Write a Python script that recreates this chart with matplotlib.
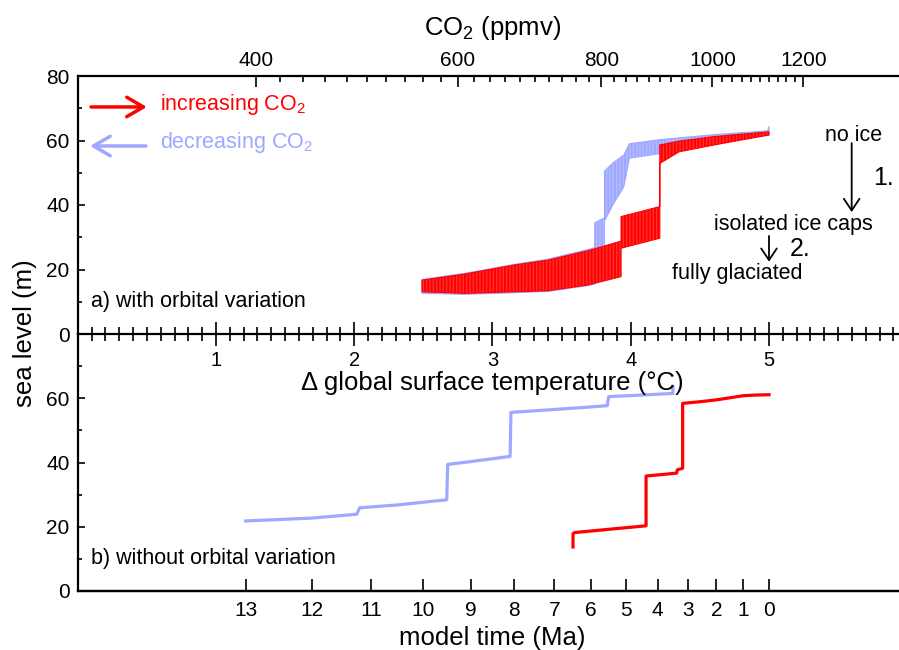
import numpy as np
import matplotlib.pyplot as plt
from matplotlib.ticker import FixedLocator, MultipleLocator, NullLocator

plt.rcParams['font.family'] = 'Liberation Sans'
plt.rcParams['mathtext.fontset'] = 'custom'
plt.rcParams['mathtext.rm'] = 'Liberation Sans'
plt.rcParams['mathtext.default'] = 'regular'
plt.rcParams['hatch.linewidth'] = 1.4

RED = '#ff0000'
BLUE = '#9fa8ff'

# a) envelope of the orbital cycles (min / max sea level), x = warming in degC
red_dT = [2.49, 2.80, 3.16, 3.40, 3.69, 3.93, 3.93, 4.21, 4.21, 4.35, 4.60, 5.00]
red_lo = [13.1, 12.6, 13.1, 13.4, 15.2, 17.8, 26.6, 29.7, 52.9, 56.5, 58.6, 61.7]
red_hi = [16.7, 18.6, 21.4, 22.9, 25.8, 28.8, 36.4, 39.5, 58.6, 59.8, 61.2, 62.7]

blue_dT = [2.49, 2.80, 3.16, 3.40, 3.69, 3.74, 3.74, 3.81, 3.81, 3.87, 3.95,
           3.99, 4.22, 4.60, 4.99, 5.00]
blue_lo = [12.6, 12.3, 12.8, 13.2, 15.0, 15.5, 26.0, 27.0, 35.0, 40.0, 45.7,
           54.5, 56.0, 59.0, 61.7, 61.7]
blue_hi = [16.9, 18.8, 21.6, 23.2, 26.2, 26.8, 34.5, 36.0, 50.5, 53.0, 55.5,
           59.0, 60.3, 61.8, 63.0, 64.3]

# b) runs without orbital forcing, x = model time (Ma)
red_time = [6.5, 6.5, 6.45, 5.5, 4.37, 4.37, 3.8, 3.38, 3.36, 3.18, 3.18,
            2.5, 2.0, 1.0, 0.5, 0.0]
red_sl = [13.7, 17.9, 18.2, 19.2, 20.3, 35.8, 36.3, 36.7, 37.7, 38.2, 58.4,
          59.0, 59.5, 60.8, 61.0, 61.1]

blue_time = [13.0, 12.0, 11.25, 11.2, 10.5, 9.52, 9.5, 9.0, 8.1, 8.08, 7.0,
             6.0, 5.54, 5.5, 4.5, 3.51, 3.5]
blue_sl = [21.8, 22.7, 23.9, 25.9, 26.8, 28.4, 39.4, 40.3, 41.9, 55.6, 56.5,
           57.3, 57.7, 60.5, 61.0, 61.5, 63.4]

co2_ticks = [400, 600, 800, 1000, 1200]
dT_ticks = [1, 2, 3, 4, 5]
time_ticks = [13, 12, 11, 10, 9, 8, 7, 6, 5, 4, 3, 2, 1, 0]


# 2.5 degC per CO2 doubling from 280 ppmv; CO2 ramps 56 ppmv per Ma
def dT_to_co2(dT):
    return 280.0 * 2.0 ** (np.asarray(dT, float) / 2.5)


def co2_to_dT(co2):
    return 2.5 * np.log2(np.clip(np.asarray(co2, float), 1e-6, None) / 280.0)


def time_to_dT(t):
    return co2_to_dT(1120.0 - 56.0 * np.asarray(t, float))


def dT_to_time(dT):
    return (1120.0 - dT_to_co2(dT)) / 56.0


fig = plt.figure(figsize=(8.99, 6.5), dpi=100)
W, H = 899.0, 650.0
ax_a = fig.add_axes([77.75 / W, 316 / H, 829.5 / W, 258 / H])
ax_b = fig.add_axes([77.75 / W, 59 / H, 829.5 / W, 257 / H])

# ---- panel a ----
ax_a.fill_between(blue_dT, blue_lo, blue_hi, facecolor='#b4bbff',
                  edgecolor=BLUE, hatch='|||||', linewidth=0.8, zorder=2)
ax_a.fill_between(red_dT, red_lo, red_hi, facecolor='#ff3030',
                  edgecolor=RED, hatch='|||||', linewidth=0.8, zorder=3)
ax_a.set_xlim(0, 6)
ax_a.set_ylim(0, 80)

ax_a.set_xticks(dT_ticks)
ax_a.xaxis.set_minor_locator(MultipleLocator(0.1))
ax_a.tick_params(axis='x', which='major', direction='inout', length=17,
                 width=1.2, pad=3.5, labelsize=14.5, top=False)
ax_a.tick_params(axis='x', which='minor', direction='inout', length=9.5,
                 width=1.2, top=False)

secax = ax_a.secondary_xaxis('top', functions=(dT_to_co2, co2_to_dT))
secax.set_xticks(co2_ticks, labels=[str(c) for c in co2_ticks])
secax.xaxis.set_minor_locator(FixedLocator([c for c in range(420, 1200, 20)
                                            if c % 200]))
secax.tick_params(axis='x', which='major', direction='in', length=8,
                  width=1.2, pad=4, labelsize=15)
secax.tick_params(axis='x', which='minor', direction='in', length=4.5,
                  width=1.2)
secax.spines['top'].set_linewidth(1.6)

# ---- panel b ----
ax_b.plot(time_to_dT(blue_time), blue_sl, color=BLUE, lw=2.3, zorder=2)
ax_b.plot(time_to_dT(red_time), red_sl, color=RED, lw=2.3, zorder=3)
ax_b.set_xlim(0, 6)
ax_b.set_ylim(0, 80)
ax_b.tick_params(axis='x', which='both', bottom=False, labelbottom=False)

timeax = ax_b.secondary_xaxis('bottom', functions=(dT_to_time, time_to_dT))
timeax.set_xticks(time_ticks, labels=[str(t) for t in time_ticks])
timeax.xaxis.set_minor_locator(NullLocator())
timeax.tick_params(axis='x', direction='in', length=8.6, width=1.2, pad=7.5,
                   labelsize=15)
timeax.spines['bottom'].set_linewidth(1.6)

ax_a.set_yticks([0, 20, 40, 60, 80])
ax_b.set_yticks([0, 20, 40, 60])
for ax in (ax_a, ax_b):
    ax.yaxis.set_minor_locator(FixedLocator([10, 30, 50, 70]))
    ax.tick_params(axis='y', which='major', direction='in', length=5,
                   width=1.2, pad=6, labelsize=15)
    ax.tick_params(axis='y', which='minor', direction='in', length=3,
                   width=1.2)
    ax.spines['right'].set_visible(False)
    ax.spines['left'].set_linewidth(1.6)
    ax.spines['bottom'].set_linewidth(1.6)
    ax.patch.set_visible(False)
ax_a.spines['top'].set_visible(False)
ax_b.spines['top'].set_visible(False)

# axis titles
fig.text(492.5 / W, 1 - 35 / H, 'CO$_2$ (ppmv)', ha='center',
         va='baseline', fontsize=18.5)
fig.text(492.5 / W, 1 - 390 / H, '\u0394 global surface temperature (\u00b0C)',
         ha='center', va='baseline', fontsize=18.5)
fig.text(492.5 / W, 1 - 645 / H, 'model time (Ma)', ha='center',
         va='baseline', fontsize=18.5)
fig.text(25 / W, 1 - 333 / H, 'sea level (m)', rotation=90, ha='center',
         va='center', fontsize=18.5)

# legend arrows
ax_a.annotate('', xy=(0.50, 70.4), xytext=(0.096, 70.4),
              arrowprops=dict(arrowstyle='->,head_length=0.6,head_width=0.35',
                              color=RED, lw=2.5, mutation_scale=20,
                              shrinkA=0, shrinkB=0))
ax_a.text(0.596, 69.5, 'increasing CO$_2$', color=RED, fontsize=15.5,
          va='baseline')
ax_a.annotate('', xy=(0.089, 58.3), xytext=(0.494, 58.3),
              arrowprops=dict(arrowstyle='->,head_length=0.6,head_width=0.35',
                              color=BLUE, lw=2.5, mutation_scale=20,
                              shrinkA=0, shrinkB=0))
ax_a.text(0.596, 57.6, 'decreasing CO$_2$', color=BLUE, fontsize=15.5,
          va='baseline')

# ice states
ax_a.text(5.61, 61.7, 'no ice', fontsize=15.5, ha='center', va='center')
ax_a.annotate('', xy=(5.598, 37.8), xytext=(5.598, 59.2),
              arrowprops=dict(arrowstyle='->,head_length=0.6,head_width=0.4',
                              color='black', lw=1.3, mutation_scale=14,
                              shrinkA=0, shrinkB=0))
ax_a.text(5.83, 48.4, '1.', fontsize=18, ha='center', va='center')
ax_a.text(5.177, 33.8, 'isolated ice caps', fontsize=15.5, ha='center',
          va='center')
ax_a.annotate('', xy=(5.0, 22.4), xytext=(5.0, 30.4),
              arrowprops=dict(arrowstyle='->,head_length=0.6,head_width=0.4',
                              color='black', lw=1.3, mutation_scale=14,
                              shrinkA=0, shrinkB=0))
ax_a.text(5.224, 26.4, '2.', fontsize=18, ha='center', va='center')
ax_a.text(4.773, 18.9, 'fully glaciated', fontsize=15.5, ha='center',
          va='center')

ax_a.text(0.096, 10.0, 'a) with orbital variation', fontsize=15.5,
          va='center')
ax_b.text(0.016, 0.128, 'b) without orbital variation', fontsize=15.5,
          va='center', transform=ax_b.transAxes)

fig.savefig('out.png', dpi=100)
